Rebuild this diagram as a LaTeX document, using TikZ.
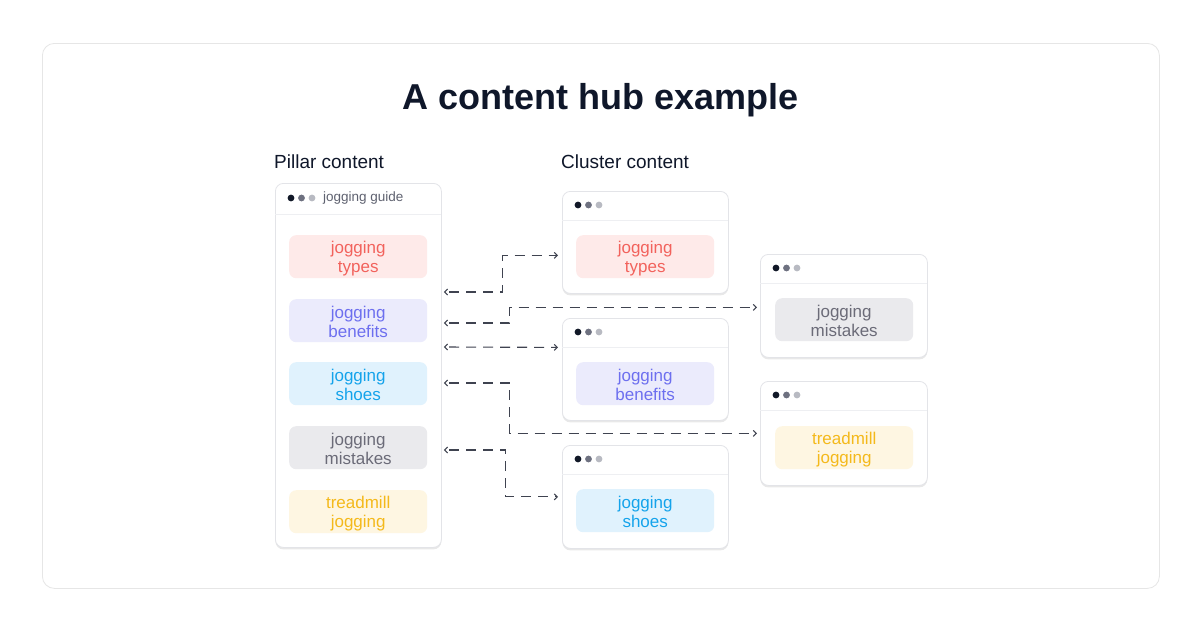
\documentclass[tikz,border=0pt]{standalone}
\usepackage{fontspec}
\setmainfont{Liberation Sans}
\usetikzlibrary{arrows.meta,shadows,calc}
\definecolor{titlec}{HTML}{0F172A}
\definecolor{cardb}{HTML}{E3E4E8}
\definecolor{framec}{HTML}{E6E6E6}
\definecolor{divc}{HTML}{EEEFF2}
\definecolor{dotA}{HTML}{111827}
\definecolor{dotB}{HTML}{6E7180}
\definecolor{dotC}{HTML}{B8BAC2}
\definecolor{redT}{HTML}{F2625C}
\definecolor{redF}{HTML}{FEEAE9}
\definecolor{indT}{HTML}{6D6FEF}
\definecolor{indF}{HTML}{EBEBFC}
\definecolor{cyaT}{HTML}{14A3EB}
\definecolor{cyaF}{HTML}{E0F2FD}
\definecolor{gryT}{HTML}{6B6B78}
\definecolor{gryF}{HTML}{EAEAED}
\definecolor{ambT}{HTML}{F4B91B}
\definecolor{ambF}{HTML}{FEF6E2}
\definecolor{linec}{HTML}{3F4350}
\definecolor{guidec}{HTML}{5F6270}
\tikzset{
  frame/.style={draw=framec, line width=0.8pt, rounded corners=12pt, fill=white, inner sep=0pt},
  card/.style={draw=cardb, line width=0.8pt, rounded corners=8pt, fill=white, inner sep=0pt,
    drop shadow={shadow xshift=0pt, shadow yshift=-2pt, opacity=0.09, fill=black}},
  pill/.style={rounded corners=7pt, inner sep=0pt, minimum width=138pt, minimum height=43pt,
    anchor=north west},
  pilltext/.style={align=center, font=\fontsize{17}{19}\selectfont, inner sep=0pt},
  divline/.style={draw=divc, line width=0.8pt},
  link/.style={draw=linec, line width=1.1pt, dash pattern=on 10pt off 7pt, dash phase=13pt,
    {Straight Barb[length=3pt,width=6pt]}-{Straight Barb[length=3pt,width=6pt]}},
}
\newcommand\mypill[5]{\node[pill, fill=#4F] (#1) at (#2,#3) {};
  \node[pilltext, text=#4T, yshift=-1.5pt] (#1t) at (#1.center) {#5};}
\newcommand\mydots[2]{%
  \fill[dotA] (#1+16,#2+14) circle (3.4pt);
  \fill[dotB] (#1+26.5,#2+14) circle (3.4pt);
  \fill[dotC] (#1+37,#2+14) circle (3.4pt);}
\newcommand\mycard[5]{% name, x, y, w, h
  \node[card, minimum width=#4pt, minimum height=#5pt, anchor=north west] (#1) at (#2,#3) {};
  \draw[divline] (#2,#3+29) -- (#2+#4,#3+29);
  \mydots{#2}{#3}}
\begin{document}
\begin{tikzpicture}[x=1pt,y=-1pt]
\fill[white] (0,0) rectangle (1200,630);
\useasboundingbox (0,0) rectangle (1200,630);
\node[frame, minimum width=1117pt, minimum height=545pt, anchor=north west] (frame) at (42,43) {};
\node[font=\fontsize{36}{40}\selectfont\bfseries, text=titlec, inner sep=0pt] (title) at (601,100) {A content hub example};
\node[font=\fontsize{19}{22}\selectfont, text=titlec, inner sep=0pt, anchor=west] (plab) at (274,162) {Pillar content};
\node[font=\fontsize{19}{22}\selectfont, text=titlec, inner sep=0pt, anchor=west] (clab) at (561,162) {Cluster content};
% pillar card
\node[card, minimum width=166pt, minimum height=364pt, anchor=north west] (P) at (275,183) {};
\draw[divline] (275,214) -- (441,214);
\fill[dotA] (291,198) circle (3.4pt);
\fill[dotB] (301.5,198) circle (3.4pt);
\fill[dotC] (312,198) circle (3.4pt);
\node[font=\fontsize{13.5}{15}\selectfont, text=guidec, inner sep=0pt, anchor=west] (guide) at (323,198.5) {jogging guide};
\mypill{p1}{289}{235}{red}{jogging\\types}
\mypill{p2}{289}{299}{ind}{jogging\\benefits}
\mypill{p3}{289}{362}{cya}{jogging\\shoes}
\mypill{p4}{289}{426}{gry}{jogging\\mistakes}
\mypill{p5}{289}{490}{amb}{treadmill\\jogging}
% cluster cards
\mycard{A}{562}{191}{166}{102}
\mypill{a1}{576}{235}{red}{jogging\\types}
\mycard{B}{562}{318}{166}{102}
\mypill{b1}{576}{362}{ind}{jogging\\benefits}
\mycard{C}{562}{445}{166}{103}
\mypill{c1}{576}{489}{cya}{jogging\\shoes}
\mycard{D}{760}{254}{167}{103}
\mypill{d1}{775}{298}{gry}{jogging\\mistakes}
\mycard{E}{760}{381}{167}{104}
\mypill{e1}{775}{426}{amb}{treadmill\\jogging}
% connectors
\draw[link] ([xshift=2pt,yshift=-109pt]P.north east) -- ++(59,0) |- ([xshift=-4pt,yshift=-13pt]A.west);
\draw[link] ([xshift=2pt,yshift=-140pt]P.north east) -- ++(66,0) |- ([xshift=-3pt,yshift=-1.5pt]D.west);
\draw[link] ([xshift=2pt,yshift=-164pt]P.north east) -- ([xshift=-4pt,yshift=22pt]B.west);
\draw[link] ([xshift=2pt,yshift=-200pt]P.north east) -- ++(66,0) |- ([xshift=-3pt]E.west);
\draw[link] ([xshift=2pt,yshift=-267pt]P.north east) -- ++(62,0) |- ([xshift=-4pt]C.west);
\end{tikzpicture}
\end{document}
